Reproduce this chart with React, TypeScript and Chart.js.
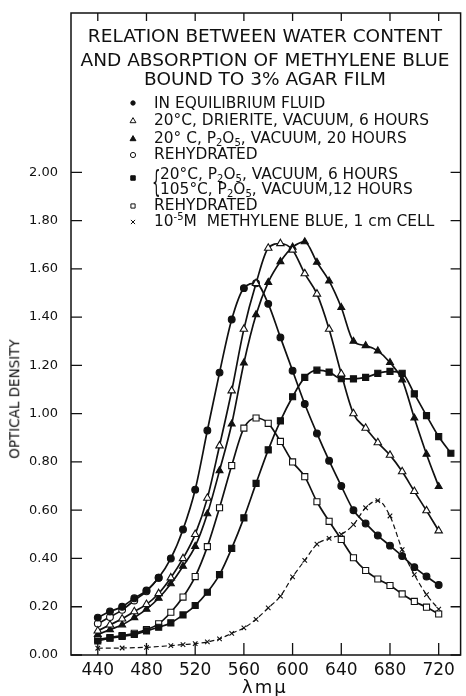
import React, { useEffect, useRef } from 'react';
import { Chart, registerables } from 'chart.js';

Chart.register(...registerables);

// ---------- data (wavelength in mμ, optical density) ----------
const wavelengths = [440, 450, 460, 470, 480, 490, 500, 510, 520, 530, 540, 550, 560, 570, 580, 590, 600, 610, 620, 630, 640, 650, 660, 670, 680, 690, 700, 710, 720];
const wavelengthsSquares = [440, 450, 460, 470, 480, 490, 500, 510, 520, 530, 540, 550, 560, 570, 580, 590, 600, 610, 620, 630, 640, 650, 660, 670, 680, 690, 700, 710, 720, 730];
const wavelengthsRehydrated1 = [440, 450, 460, 470, 480, 490];
const wavelengthsSolution = [440, 460, 480, 500, 510, 520, 530, 540, 550, 560, 570, 580, 590, 600, 610, 620, 630, 640, 650, 660, 670, 680, 690, 700, 710, 720];

const equilibriumFluid = [0.155, 0.18, 0.2, 0.235, 0.267, 0.32, 0.4, 0.52, 0.685, 0.93, 1.17, 1.39, 1.52, 1.54, 1.455, 1.316, 1.178, 1.04, 0.918, 0.805, 0.7, 0.6, 0.545, 0.495, 0.453, 0.41, 0.364, 0.325, 0.29];
const drieriteVacuum6h = [0.1, 0.125, 0.15, 0.18, 0.21, 0.255, 0.32, 0.4, 0.5, 0.65, 0.867, 1.095, 1.35, 1.54, 1.686, 1.705, 1.678, 1.58, 1.496, 1.35, 1.165, 1.0, 0.94, 0.88, 0.828, 0.76, 0.678, 0.598, 0.515];
const p2o5Vacuum20h = [0.085, 0.105, 0.125, 0.155, 0.19, 0.235, 0.295, 0.368, 0.45, 0.585, 0.764, 0.957, 1.21, 1.41, 1.544, 1.63, 1.69, 1.712, 1.627, 1.55, 1.44, 1.3, 1.282, 1.26, 1.212, 1.14, 0.982, 0.832, 0.698];
const rehydrated1 = [0.13, 0.157, 0.187, 0.226, 0.264, 0.32];
const p2o5Vacuum6h105C = [0.058, 0.07, 0.077, 0.085, 0.1, 0.115, 0.133, 0.166, 0.205, 0.26, 0.333, 0.442, 0.568, 0.711, 0.85, 0.97, 1.07, 1.15, 1.18, 1.172, 1.145, 1.144, 1.15, 1.167, 1.175, 1.167, 1.082, 0.992, 0.905, 0.836];
const rehydrated2 = [0.065, 0.072, 0.08, 0.09, 0.105, 0.129, 0.177, 0.24, 0.325, 0.449, 0.61, 0.785, 0.94, 0.982, 0.96, 0.885, 0.8, 0.739, 0.635, 0.554, 0.479, 0.403, 0.35, 0.315, 0.288, 0.253, 0.222, 0.198, 0.17];
const methyleneBlueSolution = [0.028, 0.029, 0.032, 0.039, 0.043, 0.047, 0.054, 0.067, 0.09, 0.112, 0.148, 0.195, 0.244, 0.324, 0.392, 0.459, 0.483, 0.5, 0.54, 0.61, 0.64, 0.576, 0.437, 0.333, 0.25, 0.19];

const xTickValues = [440, 480, 520, 560, 600, 640, 680, 720];
const yTickValues = [0, 0.2, 0.4, 0.6, 0.8, 1.0, 1.2, 1.4, 1.6, 1.8, 2.0];

const INK = '#111';
const FONT = '"DejaVu Sans", "Liberation Sans", sans-serif';

function pts(xs: number[], ys: number[]) {
  return xs.map((x, i) => ({ x, y: ys[i] }));
}

type MarkStyle = 'circle' | 'triangle' | 'rect' | 'cross';

function drawMark(ctx: CanvasRenderingContext2D, style: MarkStyle, filled: boolean, x: number, y: number, r: number) {
  ctx.beginPath();
  if (style === 'circle') {
    ctx.arc(x, y, r, 0, Math.PI * 2);
  } else if (style === 'triangle') {
    ctx.moveTo(x, y - r);
    ctx.lineTo(x + r * 0.866, y + r * 0.5);
    ctx.lineTo(x - r * 0.866, y + r * 0.5);
    ctx.closePath();
  } else if (style === 'rect') {
    ctx.rect(x - r * 0.75, y - r * 0.75, r * 1.5, r * 1.5);
  } else {
    ctx.moveTo(x - r * 0.7, y - r * 0.7);
    ctx.lineTo(x + r * 0.7, y + r * 0.7);
    ctx.moveTo(x + r * 0.7, y - r * 0.7);
    ctx.lineTo(x - r * 0.7, y + r * 0.7);
  }
  if (style !== 'cross') {
    ctx.fillStyle = filled ? INK : '#fff';
    ctx.fill();
  }
  ctx.stroke();
}

const legendMarks: { style: MarkStyle; filled: boolean; y: number; r: number }[] = [
  { style: 'circle', filled: true, y: 103, r: 2.2 },
  { style: 'triangle', filled: false, y: 121, r: 3.4 },
  { style: 'triangle', filled: true, y: 139, r: 3.4 },
  { style: 'circle', filled: false, y: 155, r: 2.6 },
  { style: 'rect', filled: true, y: 178, r: 3.0 },
  { style: 'rect', filled: false, y: 206, r: 2.8 },
  { style: 'cross', filled: false, y: 222, r: 3.0 },
];

const framePlugin = {
  id: 'frame',
  beforeDatasetsDraw(chart: any) {
    const { ctx, chartArea, scales } = chart;
    const { left, right, top, bottom } = chartArea;
    const xs = scales.x;
    const ys = scales.y;
    ctx.save();
    ctx.strokeStyle = INK;
    ctx.lineWidth = 1.5;
    ctx.strokeRect(left, top, right - left, bottom - top);
    ctx.lineWidth = 1.3;
    ctx.beginPath();
    xs.ticks.forEach((t: any) => {
      const p = xs.getPixelForValue(t.value);
      ctx.moveTo(p, bottom);
      ctx.lineTo(p, bottom - 12);
      ctx.moveTo(p, top);
      ctx.lineTo(p, top + 8);
    });
    ys.ticks.forEach((t: any) => {
      const p = ys.getPixelForValue(t.value);
      ctx.moveTo(left, p);
      ctx.lineTo(left + 11, p);
      ctx.moveTo(right, p);
      ctx.lineTo(right - 10, p);
    });
    ctx.stroke();
    ctx.restore();
  },
  afterDraw(chart: any) {
    const { ctx } = chart;
    ctx.save();
    ctx.strokeStyle = INK;
    ctx.lineWidth = 1;
    legendMarks.forEach((m) => drawMark(ctx, m.style, m.filled, 133, m.y, m.r));
    ctx.restore();
  },
};

function series(data: { x: number; y: number }[], style: string, filled: boolean, radius: number, extra: any = {}) {
  return {
    data,
    borderColor: INK,
    borderWidth: 1.7,
    pointStyle: style,
    pointRadius: radius,
    pointBorderWidth: 1.1,
    pointBorderColor: INK,
    pointBackgroundColor: filled ? INK : '#fff',
    cubicInterpolationMode: 'monotone',
    fill: false,
    ...extra,
  };
}

export default function App() {
  const ref = useRef<HTMLCanvasElement>(null);

  useEffect(() => {
    const canvas = ref.current;
    if (!canvas) return;
    const chart = new Chart(canvas, {
      type: 'line',
      data: {
        datasets: [
          series(pts(wavelengths, drieriteVacuum6h), 'triangle', false, 4.3),
          series(pts(wavelengths, equilibriumFluid), 'circle', true, 3.4),
          series(pts(wavelengths, p2o5Vacuum20h), 'triangle', true, 4.0),
          series(pts(wavelengthsSquares, p2o5Vacuum6h105C), 'rect', true, 4.3),
          series(pts(wavelengthsRehydrated1, rehydrated1), 'circle', false, 3.4),
          series(pts(wavelengths, rehydrated2), 'rect', false, 4.3),
          series(pts(wavelengthsSolution, methyleneBlueSolution), 'crossRot', false, 3.2, {
            borderWidth: 1.2,
            borderDash: [5, 3],
            pointBorderWidth: 1.1,
          }),
        ] as any,
      },
      options: {
        responsive: false,
        animation: false,
        events: [],
        layout: { padding: { top: 13, right: 1, left: 0, bottom: 0 } },
        plugins: { legend: { display: false }, tooltip: { enabled: false }, title: { display: false } },
        scales: {
          x: {
            type: 'linear',
            min: 418,
            max: 738,
            grid: { display: false, drawTicks: false },
            border: { display: false },
            afterBuildTicks: (axis: any) => {
              axis.ticks = xTickValues.map((v) => ({ value: v }));
            },
            afterFit: (axis: any) => {
              axis.height = 41;
              axis.paddingLeft = 0;
              axis.paddingRight = 0;
            },
            ticks: {
              autoSkip: false,
              maxRotation: 0,
              padding: 5,
              color: INK,
              font: { family: FONT, size: 17 },
              callback: (v: any) => String(v),
            },
          },
          y: {
            type: 'linear',
            min: 0,
            max: 2.66,
            grid: { display: false, drawTicks: false },
            border: { display: false },
            afterBuildTicks: (axis: any) => {
              axis.ticks = yTickValues.map((v) => ({ value: v }));
            },
            afterFit: (axis: any) => {
              axis.width = 71;
              axis.paddingTop = 0;
              axis.paddingBottom = 0;
            },
            ticks: {
              autoSkip: false,
              padding: 13,
              color: INK,
              font: { family: FONT, size: 13 },
              callback: (v: any) => Number(v).toFixed(2),
            },
          },
        },
      },
      plugins: [framePlugin],
    } as any);
    return () => chart.destroy();
  }, []);

  const sub = (t: string) => <span style={{ fontSize: 10, verticalAlign: '-3px', lineHeight: 0 }}>{t}</span>;
  const sup = (t: string) => <span style={{ fontSize: 10, verticalAlign: '6px', lineHeight: 0 }}>{t}</span>;

  const abs = (top: number, left: number, extra: React.CSSProperties = {}): React.CSSProperties => ({
    position: 'absolute',
    top,
    left,
    lineHeight: 1,
    transform: 'translateY(-50%)',
    whiteSpace: 'pre',
    ...extra,
  });

  const titleStyle = (top: number): React.CSSProperties =>
    abs(top, 65, { width: 400, textAlign: 'center', fontSize: 18.5 });

  const legendFont: React.CSSProperties = { fontSize: 15.4 };

  return (
    <div
      style={{
        position: 'fixed',
        left: 0,
        top: 0,
        width: 466,
        height: 696,
        background: '#fff',
        fontFamily: FONT,
        color: INK,
        overflow: 'hidden',
      }}
    >
      <canvas ref={ref} width={466} height={696} style={{ position: 'absolute', left: 0, top: 0, width: 466, height: 696 }} />

      <div style={titleStyle(35.5)}>RELATION BETWEEN WATER CONTENT</div>
      <div style={titleStyle(60)}>AND ABSORPTION OF METHYLENE BLUE</div>
      <div style={titleStyle(79)}>BOUND TO 3% AGAR FILM</div>

      <div style={abs(103.5, 154, legendFont)}>IN EQUILIBRIUM FLUID</div>
      <div style={abs(120.5, 154, legendFont)}>20°C, DRIERITE, VACUUM, 6 HOURS</div>
      <div style={abs(138.5, 154, legendFont)}>20° C, P{sub('2')}O{sub('5')}, VACUUM, 20 HOURS</div>
      <div style={abs(155, 154, legendFont)}>REHYDRATED</div>
      <div style={abs(182, 152, { fontSize: 30, transform: 'translateY(-50%) scaleX(0.45)', transformOrigin: 'left center' })}>{'{'}</div>
      <div style={abs(174.5, 160, legendFont)}>20°C, P{sub('2')}O{sub('5')}, VACUUM, 6 HOURS</div>
      <div style={abs(190, 160, legendFont)}>105°C, P{sub('2')}O{sub('5')}, VACUUM,12 HOURS</div>
      <div style={abs(206, 154, legendFont)}>REHYDRATED</div>
      <div style={abs(221.5, 154, legendFont)}>10{sup('-5')}M  METHYLENE BLUE, 1 cm CELL</div>

      <div
        style={{
          position: 'absolute',
          left: 15,
          top: 399,
          fontSize: 13.5,
          lineHeight: 1,
          whiteSpace: 'pre',
          transform: 'translate(-50%, -50%) rotate(-90deg)',
        }}
      >
        OPTICAL DENSITY
      </div>
      <div style={abs(687, 242, { fontSize: 18, letterSpacing: 2 })}>λmμ</div>
    </div>
  );
}
